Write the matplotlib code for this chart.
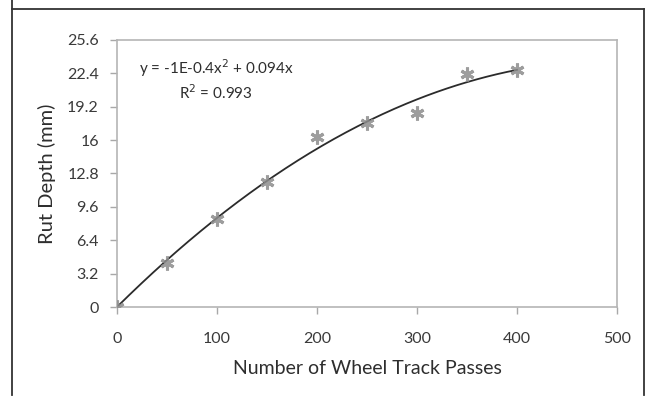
import matplotlib
matplotlib.use("Agg")
import matplotlib.pyplot as plt
import numpy as np
from matplotlib.lines import Line2D

# data
passes = [0, 50, 100, 150, 200, 250, 300, 350, 400]
rut_depth = [0.0, 4.2, 8.4, 12.0, 16.3, 17.6, 18.6, 22.3, 22.7]
y_ticks = [0, 3.2, 6.4, 9.6, 12.8, 16, 19.2, 22.4, 25.6]
y_tick_labels = ["0", "3.2", "6.4", "9.6", "12.8", "16", "19.2", "22.4", "25.6"]
x_ticks = [0, 100, 200, 300, 400, 500]
eq_text = "y = -1E-0.4x$^2$ + 0.094x\nR$^2$ = 0.993"

plt.rcParams['font.family'] = ['Lato', 'DejaVu Sans']

fig = plt.figure(figsize=[6.53, 4.03], dpi=100)
ax = fig.add_axes([0.179, 0.238, 0.766, 0.663])

# quadratic trendline through the origin, like the spreadsheet one
x = np.array(passes, dtype=float)
y = np.array(rut_depth)
A = np.vstack([x ** 2, x]).T
coef = np.linalg.lstsq(A, y, rcond=None)[0]
xs = np.linspace(0, 400, 200)
ax.plot(xs, coef[0] * xs ** 2 + coef[1] * xs, color='#2b2b2b', lw=1.3, zorder=2)

ax.plot(passes, rut_depth, linestyle='none', marker=(6, 2, 0), markersize=10,
        markeredgewidth=2.2, color='#8c8c8c', alpha=0.85, zorder=3)

ax.set_xlim(0, 500)
ax.set_ylim(0, 25.6)
ax.set_xticks(x_ticks)
ax.set_yticks(y_ticks)
ax.set_yticklabels(y_tick_labels)
ax.tick_params(colors='#a8a8a8', labelcolor='#3a3a3a', labelsize=11.5, length=5, width=1)
ax.tick_params(axis='x', pad=13)
ax.tick_params(axis='y', pad=8)
for s in ax.spines.values():
    s.set_color('#b5b5b5')
    s.set_linewidth(1.2)

ax.set_xlabel("Number of Wheel Track Passes", fontsize=14, color='#2e2e2e', labelpad=10)
ax.set_ylabel("Rut Depth (mm)", fontsize=14.5, color='#2e2e2e', labelpad=8)

ax.text(99, 21.8, eq_text, ha='center', va='center', fontsize=11, color='#2e2e2e',
        linespacing=1.3)

# outer frame of the picture
for xy in ([0.019, 0.019], [0.02, 1.2]), ([0.019, 0.986], [0.978, 0.978]), ([0.986, 0.986], [0.02, 0.978]):
    fig.add_artist(Line2D(xy[0], xy[1], color='#333333', lw=1.3))

fig.savefig('out.png', dpi=100)
